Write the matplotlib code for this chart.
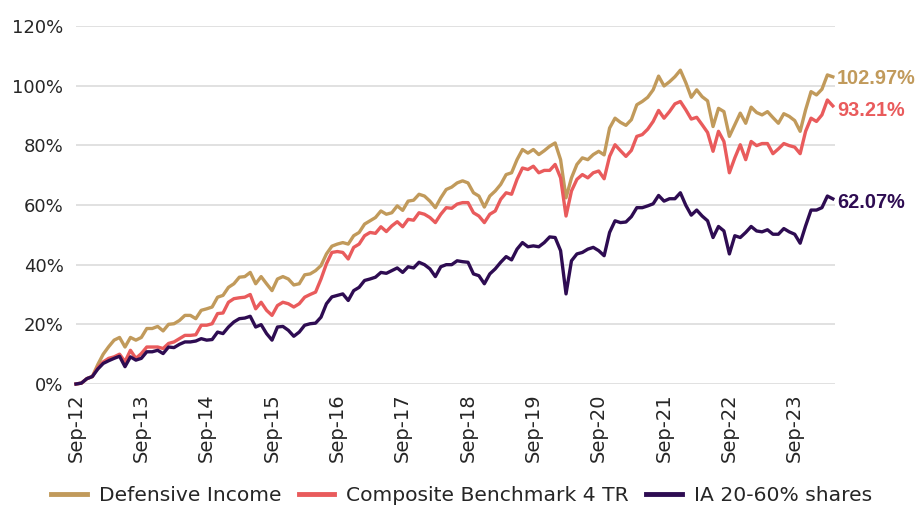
import matplotlib
matplotlib.use("Agg")
import matplotlib.pyplot as plt
from matplotlib.ticker import FuncFormatter

# Monthly cumulative returns (%), Sep-12 .. Apr-24
defensive_income = [
    0, 0.3, 1.8, 2.5, 6.5, 10.0, 12.5, 14.7, 15.6, 12.4, 15.6, 14.7,
    15.6, 18.6, 18.6, 19.3, 17.8, 20.0, 20.2, 21.3, 23.0, 23.0, 21.9, 24.7,
    25.2, 25.8, 29.1, 29.7, 32.4, 33.6, 35.8, 36.0, 37.4, 33.6, 36.0, 33.6,
    31.3, 35.2, 36.0, 35.2, 33.2, 33.6, 36.6, 36.9, 38.0, 39.7, 43.6, 46.2,
    46.9, 47.4, 46.9, 49.7, 50.8, 53.6, 54.7, 55.8, 58.0, 56.9, 57.4, 59.7,
    58.2, 61.3, 61.6, 63.6, 63.0, 61.3, 59.1, 62.4, 65.2, 66.0, 67.4, 68.1,
    67.4, 64.1, 63.0, 59.3, 63.0, 64.7, 66.9, 70.2, 70.8, 75.2, 78.6, 77.4,
    78.6, 76.9, 78.2, 79.7, 80.8, 75.2, 62.4, 69.1, 73.6, 75.8, 75.2, 76.9,
    78.0, 76.8, 85.8, 89.1, 87.7, 86.7, 88.6, 93.6, 94.7, 96.1, 98.6, 103.2,
    99.9, 101.3, 103.0, 105.2, 101.0, 96.1, 98.6, 96.3, 94.9, 86.3, 92.4, 91.3,
    83.0, 86.9, 90.8, 87.4, 92.8, 91.0, 90.2, 91.3, 89.3, 87.4, 90.6, 89.7,
    88.3, 84.7, 91.9, 98.0, 96.9, 98.8, 103.6, 102.97,
]
composite_benchmark = [
    0, 0.3, 1.8, 2.5, 5.5, 7.4, 8.6, 9.1, 10.0, 7.5, 11.3, 8.6,
    10.2, 12.4, 12.4, 12.4, 11.9, 13.6, 14.1, 15.2, 16.3, 16.3, 16.5, 19.7,
    19.7, 20.2, 23.6, 23.8, 27.4, 28.6, 28.9, 29.1, 30.0, 25.2, 27.4, 24.7,
    23.0, 26.3, 27.4, 26.9, 25.8, 26.9, 29.1, 30.0, 30.8, 35.2, 40.3, 44.1,
    44.4, 44.1, 41.9, 45.8, 46.9, 49.7, 50.8, 50.5, 52.7, 51.1, 53.0, 54.4,
    52.7, 55.2, 54.9, 57.4, 56.9, 55.8, 54.1, 56.9, 59.1, 58.9, 60.3, 60.8,
    60.8, 57.4, 56.3, 54.1, 56.9, 58.0, 61.9, 64.1, 63.6, 68.6, 72.4, 71.9,
    73.0, 70.8, 71.6, 71.6, 73.6, 69.1, 56.3, 64.7, 68.6, 70.2, 69.1, 70.8,
    71.4, 68.8, 76.3, 80.2, 78.2, 76.3, 78.3, 83.0, 83.6, 85.4, 88.0, 91.7,
    89.1, 91.3, 93.9, 94.7, 91.9, 88.8, 89.4, 86.9, 84.3, 78.0, 84.7, 81.3,
    70.8, 75.8, 80.2, 75.2, 81.3, 79.9, 80.6, 80.6, 77.2, 78.8, 80.6, 79.9,
    79.4, 77.2, 84.7, 89.1, 88.0, 90.2, 95.2, 93.21,
]
ia_20_60 = [
    0, 0.3, 1.8, 2.5, 5.0, 6.9, 7.8, 8.6, 9.3, 5.8, 9.1, 8.0,
    8.6, 10.8, 10.8, 11.3, 10.2, 12.4, 12.2, 13.3, 14.1, 14.1, 14.4, 15.2,
    14.7, 14.9, 17.4, 16.9, 19.1, 20.8, 21.9, 22.1, 22.7, 19.1, 19.9, 16.9,
    14.7, 19.1, 19.3, 18.0, 16.0, 17.4, 19.7, 20.2, 20.4, 22.4, 26.9, 29.2,
    29.7, 30.2, 28.0, 31.3, 32.4, 34.7, 35.2, 35.8, 37.4, 37.1, 38.0, 38.9,
    37.4, 39.3, 38.9, 40.8, 40.0, 38.6, 36.0, 39.3, 40.0, 40.0, 41.3, 41.0,
    40.8, 36.9, 36.3, 33.6, 36.9, 38.6, 40.8, 42.7, 41.6, 45.2, 47.4, 46.0,
    46.3, 46.0, 47.4, 49.3, 49.1, 44.7, 30.2, 41.3, 43.6, 44.1, 45.2, 45.8,
    44.7, 43.0, 50.8, 54.7, 54.1, 54.3, 56.1, 59.1, 59.1, 59.7, 60.4, 63.2,
    61.3, 62.1, 62.1, 64.1, 59.9, 56.6, 58.3, 56.3, 54.7, 49.1, 52.8, 51.3,
    43.6, 49.7, 49.1, 50.8, 52.8, 51.3, 51.0, 51.7, 50.2, 50.2, 52.1, 51.0,
    50.2, 47.2, 53.0, 58.3, 58.3, 59.1, 63.0, 62.07,
]
series_names = ["Defensive Income", "Composite Benchmark 4 TR", "IA 20-60% shares"]
end_labels = ["102.97%", "93.21%", "62.07%"]
tick_labels = ["Sep-12", "Sep-13", "Sep-14", "Sep-15", "Sep-16", "Sep-17",
               "Sep-18", "Sep-19", "Sep-20", "Sep-21", "Sep-22", "Sep-23"]
y_ticks = [0, 20, 40, 60, 80, 100, 120]

colors = ["#C19A5B", "#E95B5C", "#2E0C52"]

fig = plt.figure(figsize=(9.18, 5.13), dpi=100)
ax = fig.add_axes([76 / 918, 1 - 384 / 513, (835 - 76) / 918, (384 - 26) / 513])

x = list(range(len(defensive_income)))
all_series = [defensive_income, composite_benchmark, ia_20_60]
lines = []
for data, name, col in zip(all_series, series_names, colors):
    ln, = ax.plot(x, data, color=col, lw=2.4, label=name, solid_joinstyle="round",
                  clip_on=False, zorder=3)
    lines.append(ln)

label_offsets = [-1, -3, -3]
for data, lab, col, dy in zip(all_series, end_labels, colors, label_offsets):
    ax.annotate(lab, xy=(x[-1], data[-1]), xytext=(3, dy), textcoords="offset points",
                color=col, fontsize=14.3, fontweight="bold", family="Liberation Sans",
                va="center", ha="left", annotation_clip=False)

ax.set_xlim(0, 139.4)
ax.set_ylim(0, 120)
ax.set_yticks(y_ticks)
ax.yaxis.set_major_formatter(FuncFormatter(lambda v, p: f"{v:.0f}%"))
ax.set_xticks([12 * k for k in range(len(tick_labels))])
ax.set_xticklabels(tick_labels, rotation=90)
ax.tick_params(axis="both", length=0, labelsize=13, colors="#262626")
ax.tick_params(axis="x", pad=7, labelsize=14)
ax.tick_params(axis="y", pad=9)
ax.grid(axis="y", color="#DEDEDE", lw=1.3, zorder=0)
ax.set_axisbelow(True)
for s in ax.spines.values():
    s.set_visible(False)

fig.legend(handles=lines, loc="lower center", bbox_to_anchor=(0.503, -0.02), ncol=3,
           frameon=False, fontsize=14.6, handlelength=1.75, columnspacing=0.85,
           handletextpad=0.6, labelcolor="#262626")
for lh in fig.legends[0].get_lines():
    lh.set_linewidth(3.5)

fig.savefig("out.png", dpi=100)
